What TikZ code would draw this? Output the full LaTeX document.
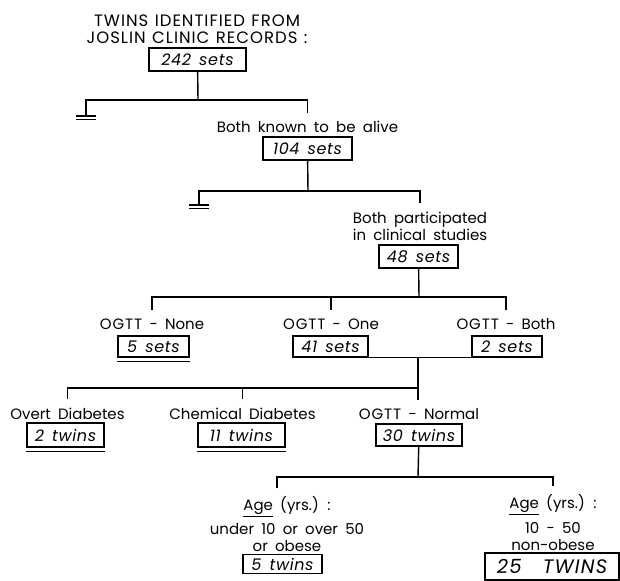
\documentclass[tikz,border=0pt]{standalone}
\usepackage{fontspec}
\setmainfont[WordSpace=1.8]{Poppins}
\newfontfamily\spaced[LetterSpace=6, WordSpace=1.2]{Poppins}
\newfontfamily\tally[LetterSpace=4, WordSpace=1.5]{Poppins}
\newcommand\ogtt{{\spaced OGTT}}
\usetikzlibrary{calc}

\begin{document}
\begin{tikzpicture}[x=1pt, y=-1pt, line width=1.4pt,
                    heading/.style={align=center, inner xsep=0pt, inner ysep=8pt,
                                    font=\fontsize{15}{17}\selectfont},
                    count/.style={rectangle, draw, inner sep=0pt, minimum height=22pt,
                                  font=\fontsize{16}{18}\selectfont\tally\itshape},
                    %% every node/.style={draw=red}
                    ]
\useasboundingbox (0,0) rectangle (620,580);

\node[heading, font=\fontsize{16.5}{16.5}\selectfont\spaced] (head) at (197,29)
     {TWINS IDENTIFIED FROM\\JOSLIN CLINIC RECORDS :};
\node[count, minimum width=97pt, minimum height=23pt] (n242) at (197.5,59.5) {242 sets};
\node[heading] (alive) at (307.5,127) {Both known to be alive};
\node[count, minimum width=89pt, minimum height=23pt] (n104) at (307.5,148.5) {104 sets};
\node[heading] (studies) at (420,226) {Both participated\\in clinical studies};
\node[count, minimum width=79pt, minimum height=23pt] (n48) at (418.5,256.5) {48 sets};

\node[heading] (none) at (152,324) {\ogtt\ - None};
\node[count, minimum width=71pt, minimum height=21pt] (n5) at (153.5,346.5) {5 sets};
\node[heading] (one) at (331,324) {\ogtt\ - One};
\node[count, minimum width=75pt, minimum height=21pt] (n41) at (330.5,346.5) {41 sets};
\node[heading] (both) at (506,324) {\ogtt\ - Both};
\node[count, minimum width=70pt, minimum height=21pt] (n2) at (507,346.5) {2 sets};

\node[heading] (overt) at (67.5,413.5) {Overt Diabetes};
\node[count, minimum width=77pt, minimum height=24pt] (n2t) at (65.5,435) {2 twins};
\node[heading] (chemical) at (242.5,413.5) {Chemical Diabetes};
\node[count, minimum width=87pt, minimum height=24pt] (n11) at (241.5,435) {11 twins};
\node[heading] (normal) at (419,414) {\ogtt\ - Normal};
\node[count, minimum width=86pt] (n30) at (419,435) {30 twins};

\node[heading] (outside) at (287,524) {\underline{Age} (yrs.) :\\[5pt]under 10 or over 50\\or obese};
\node[count, minimum width=79pt, minimum height=19pt] (n5t) at (282.5,564) {5 twins};
\node[heading] (inside) at (553,523) {\underline{Age} (yrs.) :\\[7pt]10 - 50\\non-obese};
\node[count, minimum width=134pt, minimum height=27pt, line width=2pt,
      font=\fontsize{19.5}{20}\selectfont\spaced\itshape] (n25) at (552,566.5) {25\hspace{1.1em}TWINS};

% records -> alive, with a ground on the left
\coordinate (s1) at (198,100);
\coordinate (g1) at (86,116);
\draw (n242) -- (s1);
\draw (g1) |- (s1) -| (alive);
\draw ([xshift=-10pt]g1) -- ([xshift=10pt]g1)
      ([xshift=-10pt,yshift=-3.5pt]g1) -- ([xshift=10pt,yshift=-3.5pt]g1);

% alive -> studies
\coordinate (s2) at (308,191);
\coordinate (g2) at (199,205);
\draw (n104) -- (s2);
\draw (g2) |- (s2) -| (studies);
\draw ([xshift=-10pt]g2) -- ([xshift=10pt]g2)
      ([xshift=-10pt,yshift=-3.5pt]g2) -- ([xshift=10pt,yshift=-3.5pt]g2);

% studies -> OGTT
\coordinate (s3) at (419,297);
\draw (n48) -- (s3);
\draw (none) |- (s3) -| (both);
\draw (one) -- (one |- s3);

% one + both -> diagnosis
\coordinate (s4) at (418,357);
\coordinate (s5) at (418,388);
\draw (n41.south east) -- (n2.south west);
\draw (s4) -- (s4 |- normal.north);
\draw (overt) |- (s5);
\draw (chemical) -- (chemical |- s5);

% normal -> age groups
\coordinate (s6) at (418,477);
\draw (n30) -- (s6);
\draw ([xshift=-10pt]outside.north) |- (s6) -| (inside);

% double underlines
\draw ([yshift=-4pt]n5.south west) -- ([yshift=-4pt]n5.south east);
\draw ([yshift=-4pt]n2t.south west) -- ([yshift=-4pt]n2t.south east);
\draw ([yshift=-4pt]n11.south west) -- ([yshift=-4pt]n11.south east);
\end{tikzpicture}
\end{document}
